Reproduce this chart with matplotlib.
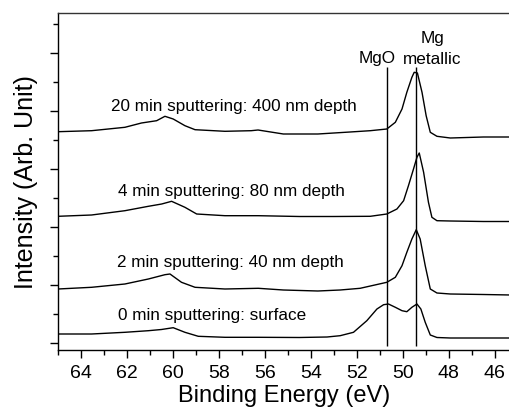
import numpy as np
import matplotlib.pyplot as plt
from matplotlib.ticker import MultipleLocator

plt.rcParams['font.family'] = ['Liberation Sans', 'DejaVu Sans']

# binding energy (eV) and intensity (arb., stacked offsets)
be_0 = [65.0, 63.54, 62.09, 61.07, 60.5, 59.99, 59.48, 58.9, 57.74, 56.29, 54.5, 53.3, 52.73, 52.15,
        51.57, 51.13, 50.84, 50.63, 50.33, 50.04, 49.83, 49.61, 49.39, 49.22, 49.03, 48.81, 48.52,
        47.94, 46.5, 45.3]
int_0 = [16, 16, 17.7, 19.3, 20.5, 22.3, 17.7, 13.7, 12.7, 12.7, 12.5, 13, 14.3, 17.7,
         29.3, 41, 45.3, 46, 42.7, 39.3, 38.3, 42.7, 46, 41, 27.7, 15, 12.5,
         12, 12, 12]

be_2 = [65.0, 63.54, 62.09, 61.07, 60.35, 60.13, 59.63, 59.04, 57.74, 56.29, 55.2, 53.7, 52.73,
        51.86, 50.7, 50.33, 50.04, 49.83, 49.61, 49.42, 49.25, 49.03, 48.81, 48.52, 47.94, 46.5, 45.3]
int_2 = [61, 62.7, 66, 71, 75.3, 76, 67.7, 62.7, 61, 61.7, 60, 59, 60,
         61.7, 67.7, 72.7, 84.3, 97.7, 111, 120.3, 111, 84.3, 61, 57, 56, 55.5, 55]

be_4 = [65.0, 63.54, 62.09, 61.07, 60.49, 60.06, 59.48, 58.97, 57.74, 56.29, 54.5, 53.0, 51.42,
        50.7, 50.26, 49.97, 49.76, 49.54, 49.39, 49.29, 49.1, 48.89, 48.74, 48.52, 47.94, 46.5, 45.3]
int_4 = [133.7, 135, 139.3, 143.7, 146, 148.7, 142.7, 136, 134.3, 134.3, 133.5, 133.5, 133.7,
         136, 141, 149.3, 164.3, 181, 192.7, 197, 177.7, 147.7, 132.7, 129.3, 129, 128.5, 128.5]

be_20 = [65.0, 63.54, 62.09, 61.37, 60.71, 60.35, 59.99, 59.48, 59.04, 57.74, 56.6, 56.3, 55.2,
         53.7, 52.3, 51.42, 50.7, 50.33, 50.04, 49.83, 49.61, 49.51, 49.37, 49.17, 48.99, 48.81,
         48.52, 47.94, 46.5, 45.3]
int_20 = [218.3, 219.3, 222.7, 227, 229.3, 233.7, 231, 224.3, 220.3, 218.7, 219.3, 220, 216,
          216, 218, 219.3, 221, 227.7, 241, 257.7, 272.7, 277.7, 277, 257.7, 234.3, 217.7,
          213.7, 212, 213, 213]

labels = ['0 min sputtering: surface', '2 min sputtering: 40 nm depth',
          '4 min sputtering: 80 nm depth', '20 min sputtering: 400 nm depth']
label_x = [58.29, 57.5, 57.46, 57.33]
label_y = [35, 88, 159, 244]

line_mgo = 50.7
line_mg = 49.43

fig = plt.figure(figsize=(5.1, 4.14), dpi=100)
ax = fig.add_axes([58 / 510, 63 / 414, 453 / 510, 337 / 414])

for be, inten in [(be_0, int_0), (be_2, int_2), (be_4, int_4), (be_20, int_20)]:
    ax.plot(be, inten, color='black', lw=1.0)

ax.vlines([line_mgo, line_mg], 4, 283, color='black', lw=1.0)

for t, x, y in zip(labels, label_x, label_y):
    ax.text(x, y, t, ha='center', va='center', fontsize=12.3)
ax.text(51.12, 292, 'MgO', ha='center', va='center', fontsize=12.3)
ax.text(48.73, 312, 'Mg', ha='center', va='center', fontsize=12.3)
ax.text(48.73, 292, 'metallic', ha='center', va='center', fontsize=12.3)

ax.set_xlim(65, 45.3)
ax.set_ylim(0, 337)
ax.xaxis.set_major_locator(MultipleLocator(2))
ax.xaxis.set_minor_locator(MultipleLocator(1))
ax.set_yticks(np.arange(7, 337, 58))
ax.set_yticks(np.arange(36, 337, 58), minor=True)
ax.set_yticklabels([])
ax.tick_params(which='major', direction='out', length=6, width=1, labelsize=14)
ax.tick_params(which='minor', direction='out', length=3.5, width=1)
ax.tick_params(axis='x', pad=4)
ax.spines['right'].set_visible(False)
for s in ['left', 'bottom', 'top']:
    ax.spines[s].set_linewidth(1.0)
ax.spines['top'].set_color('#333333')

ax.set_xlabel('Binding Energy (eV)', fontsize=17, labelpad=2)
ax.set_ylabel('Intensity (Arb. Unit)', fontsize=18, labelpad=5)

plt.savefig('out.png', dpi=100)
